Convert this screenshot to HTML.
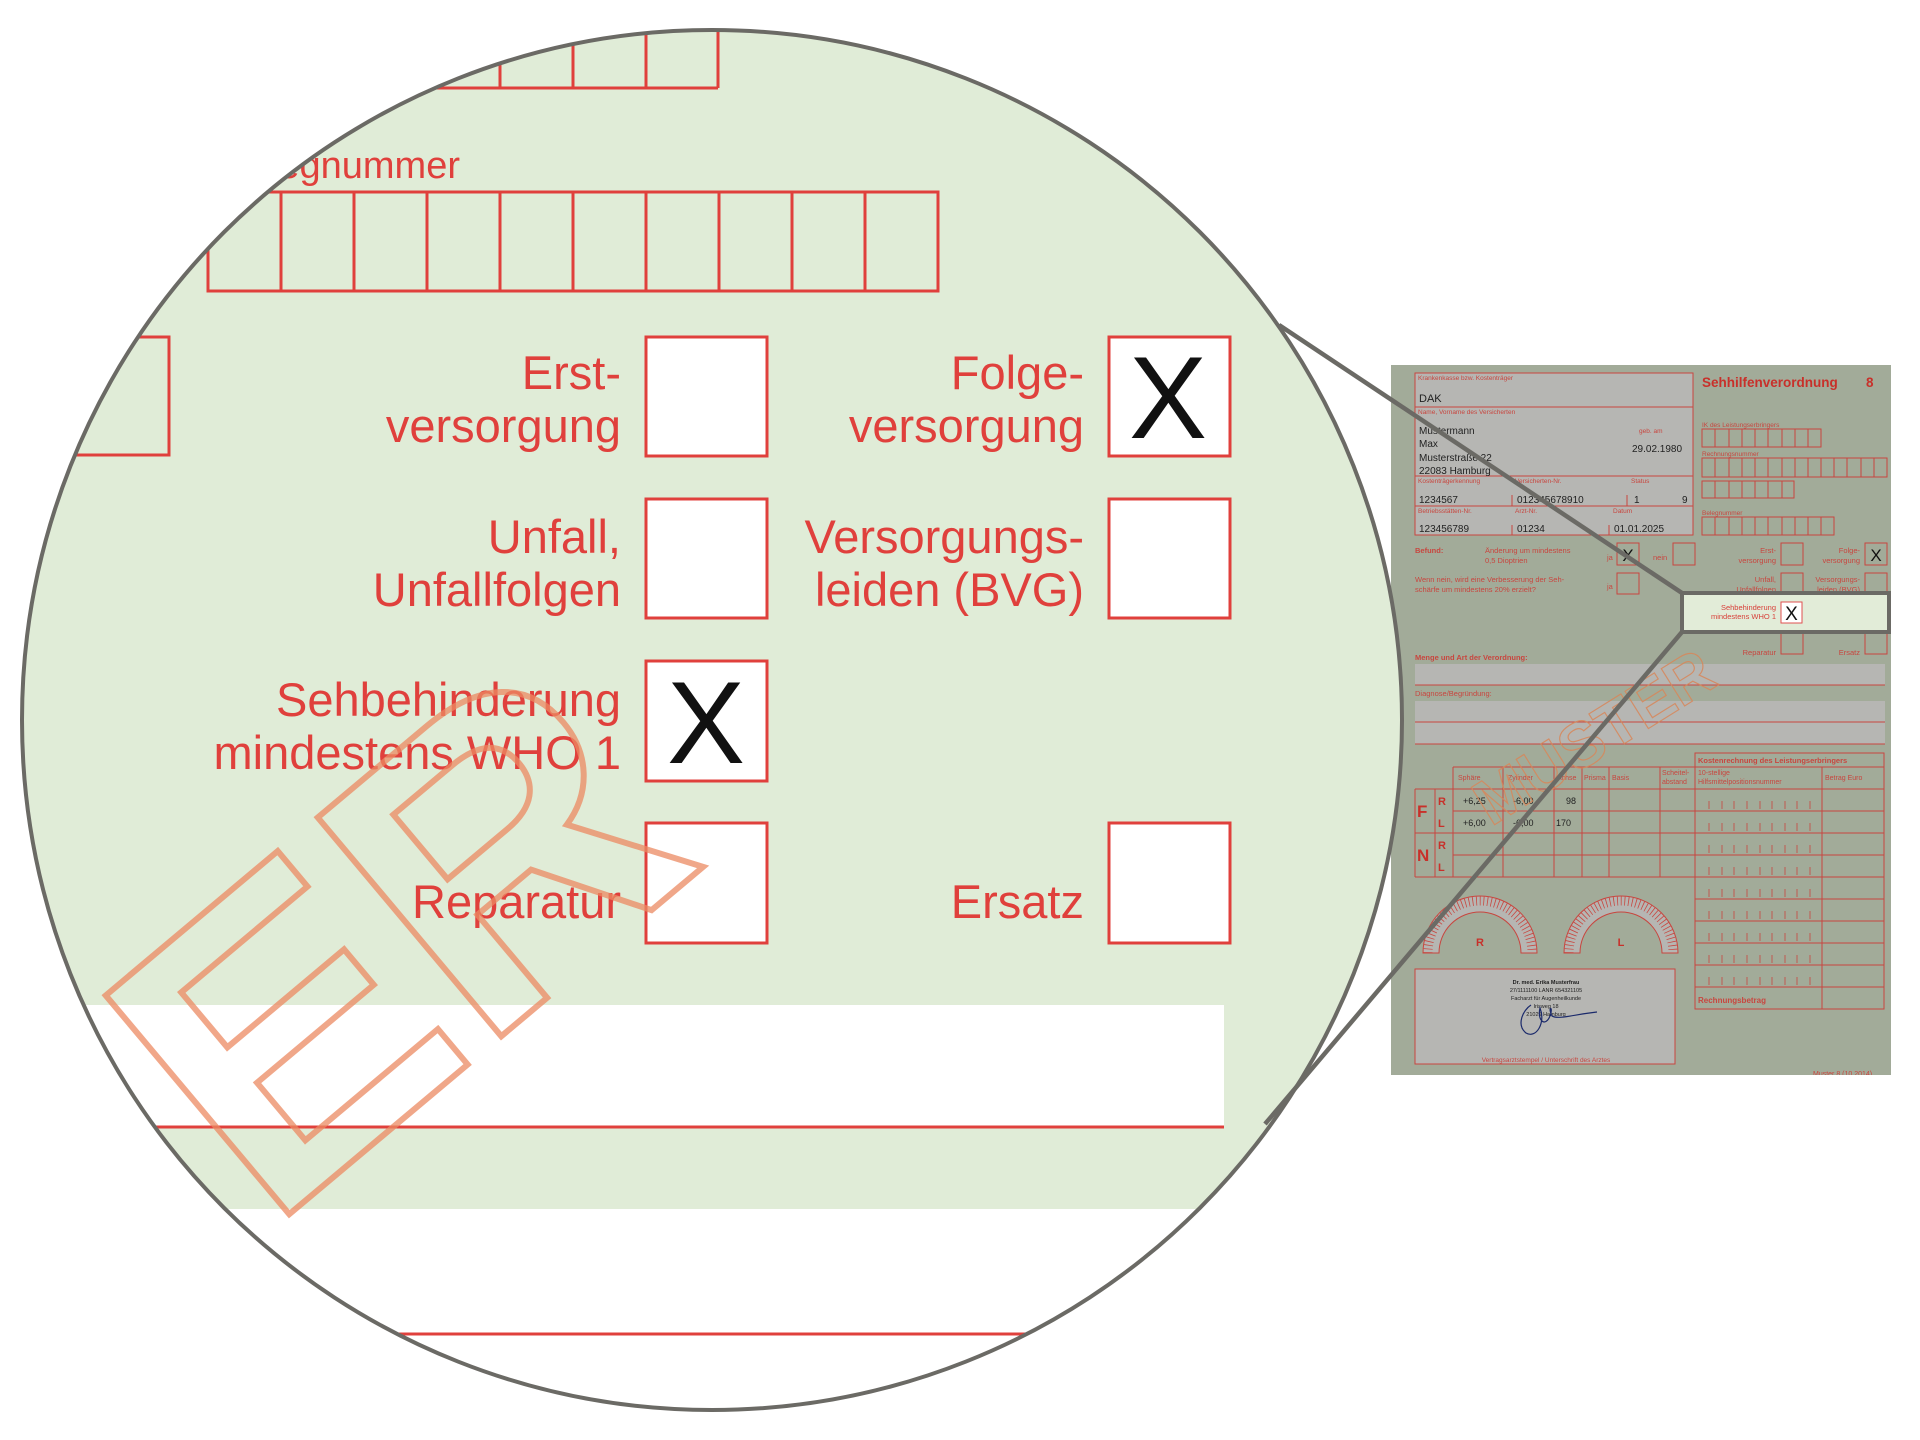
<!DOCTYPE html>
<html><head><meta charset="utf-8"><style>
html,body{margin:0;padding:0;background:#fff;width:1920px;height:1440px;overflow:hidden}
svg{display:block}
text{font-family:"Liberation Sans",sans-serif}
</style></head><body>
<svg width="1920" height="1440" viewBox="0 0 1920 1440" xmlns="http://www.w3.org/2000/svg">
<defs>
<clipPath id="cc"><circle cx="712" cy="720" r="690"/></clipPath>
<clipPath id="fc"><rect x="0" y="0" width="500" height="710"/></clipPath>
</defs>

<g transform="translate(1391,365)">
<rect x="0" y="0" width="500" height="710" fill="#a2ab99"/>
<g clip-path="url(#fc)">
<g fill="none" stroke="#c8463f" stroke-width="1">
<rect x="24" y="8" width="278" height="162" fill="#b6b6b3"/>
<line x1="24" y1="42" x2="302" y2="42"/>
<line x1="24" y1="111" x2="302" y2="111"/>
<line x1="24" y1="141" x2="302" y2="141"/>
<line x1="121" y1="130" x2="121" y2="141"/>
<line x1="236" y1="130" x2="236" y2="141"/>
<line x1="121" y1="160" x2="121" y2="170"/>
<line x1="218" y1="160" x2="218" y2="170"/>
</g>
<g fill="#c8463f" font-size="6.5">
<text x="27" y="15">Krankenkasse bzw. Kostenträger</text>
<text x="27" y="49">Name, Vorname des Versicherten</text>
<text x="248" y="68">geb. am</text>
<text x="27" y="118">Kostenträgerkennung</text>
<text x="124" y="118">Versicherten-Nr.</text>
<text x="240" y="118">Status</text>
<text x="27" y="148">Betriebsstätten-Nr.</text>
<text x="124" y="148">Arzt-Nr.</text>
<text x="222" y="148">Datum</text>
</g>
<g fill="#222" font-size="10">
<text x="28" y="37" font-size="11">DAK</text>
<text x="28" y="69">Mustermann</text>
<text x="28" y="82">Max</text>
<text x="28" y="96">Musterstraße 22</text>
<text x="28" y="109">22083 Hamburg</text>
<text x="241" y="87">29.02.1980</text>
<text x="28" y="138">1234567</text>
<text x="126" y="138">012345678910</text>
<text x="243" y="138">1</text>
<text x="291" y="138">9</text>
<text x="28" y="167">123456789</text>
<text x="126" y="167">01234</text>
<text x="223" y="167">01.01.2025</text>
</g>
<text x="311" y="22" fill="#c8302a" font-size="13.5" font-weight="bold">Sehhilfenverordnung</text>
<text x="475" y="22" fill="#c8302a" font-size="13.5" font-weight="bold">8</text>
<g fill="#c8463f" font-size="6.5">
<text x="311" y="62">IK des Leistungserbringers</text>
<text x="311" y="91">Rechnungsnummer</text>
<text x="311" y="150">Belegnummer</text>
</g>
<g fill="none" stroke="#c8463f" stroke-width="1">
<rect x="311" y="64" width="119" height="18"/>
<path d="M324 64v18M338 64v18M351 64v18M364 64v18M377 64v18M391 64v18M404 64v18M417 64v18"/>
<rect x="311" y="93" width="185" height="19"/>
<path d="M324 93v19M338 93v19M351 93v19M364 93v19M377 93v19M391 93v19M404 93v19M417 93v19M430 93v19M443 93v19M456 93v19M470 93v19M483 93v19"/>
<rect x="311" y="116" width="92" height="17"/>
<path d="M324 116v17M338 116v17M351 116v17M364 116v17M377 116v17M391 116v17"/>
<rect x="311" y="152" width="132" height="18"/>
<path d="M324 152v18M338 152v18M351 152v18M364 152v18M377 152v18M391 152v18M404 152v18M417 152v18M430 152v18"/>
</g>
<g fill="#c8463f" font-size="7.5">
<text x="24" y="188" font-weight="bold">Befund:</text>
<text x="94" y="188">Änderung um mindestens</text>
<text x="94" y="198">0,5 Dioptrien</text>
<text x="216" y="195">ja</text>
<text x="262" y="195">nein</text>
<text x="24" y="217">Wenn nein, wird eine Verbesserung der Seh-</text>
<text x="24" y="227">schärfe um mindestens 20% erzielt?</text>
<text x="216" y="224">ja</text>
<text x="385" y="188" text-anchor="end">Erst-</text>
<text x="385" y="198" text-anchor="end">versorgung</text>
<text x="469" y="188" text-anchor="end">Folge-</text>
<text x="469" y="198" text-anchor="end">versorgung</text>
<text x="385" y="217" text-anchor="end">Unfall,</text>
<text x="385" y="227" text-anchor="end">Unfallfolgen</text>
<text x="469" y="217" text-anchor="end">Versorgungs-</text>
<text x="469" y="227" text-anchor="end">leiden (BVG)</text>
<text x="385" y="290" text-anchor="end">Reparatur</text>
<text x="469" y="290" text-anchor="end">Ersatz</text>
</g>
<g fill="none" stroke="#c8463f" stroke-width="1">
<rect x="226" y="178" width="22" height="22"/>
<rect x="282" y="178" width="22" height="22"/>
<rect x="390" y="178" width="22" height="22"/>
<rect x="474" y="178" width="22" height="22"/>
<rect x="226" y="208" width="22" height="21"/>
<rect x="390" y="208" width="22" height="21"/>
<rect x="474" y="208" width="22" height="21"/>
<rect x="390" y="268" width="22" height="21"/>
<rect x="474" y="268" width="22" height="21"/>
</g>
<g fill="#111" font-size="17" text-anchor="middle">
<text x="237" y="196">X</text>
<text x="485" y="196">X</text>
</g>
<text x="24" y="295" fill="#c8463f" font-size="7.5" font-weight="bold">Menge und Art der Verordnung:</text>
<rect x="24" y="299" width="470" height="21" fill="#b6b6b3"/>
<line x1="24" y1="320" x2="494" y2="320" stroke="#c8463f"/>
<text x="24" y="331" fill="#c8463f" font-size="7.5">Diagnose/Begründung:</text>
<rect x="24" y="336" width="470" height="43" fill="#b6b6b3"/>
<line x1="24" y1="357" x2="494" y2="357" stroke="#c8463f"/>
<line x1="24" y1="379" x2="494" y2="379" stroke="#c8463f"/>

<g fill="none" stroke="#c8463f" stroke-width="1">
<path d="M62 402H304M24 424H304M62 446H304M24 468H304M62 490H304M24 512H304"/>
<path d="M24 424V512M44 424V512M62 402V512M112 402V512M163 402V512M191 402V512M218 402V512M269 402V512M304 402V512"/>
<rect x="304" y="388" width="189" height="256"/>
<path d="M304 402H493M304 424H493M304 446H493M304 468H493M304 490H493M304 512H493M304 534H493M304 556H493M304 578H493M304 600H493M304 622H493"/>
<path d="M431 402V644"/>
</g>
<g stroke="#c8463f" stroke-width="0.8">
<path d="M318 436v8M331 436v8M343 436v8M356 436v8M369 436v8M381 436v8M394 436v8M406 436v8M419 436v8
M318 458v8M331 458v8M343 458v8M356 458v8M369 458v8M381 458v8M394 458v8M406 458v8M419 458v8
M318 480v8M331 480v8M343 480v8M356 480v8M369 480v8M381 480v8M394 480v8M406 480v8M419 480v8
M318 502v8M331 502v8M343 502v8M356 502v8M369 502v8M381 502v8M394 502v8M406 502v8M419 502v8
M318 524v8M331 524v8M343 524v8M356 524v8M369 524v8M381 524v8M394 524v8M406 524v8M419 524v8
M318 546v8M331 546v8M343 546v8M356 546v8M369 546v8M381 546v8M394 546v8M406 546v8M419 546v8
M318 568v8M331 568v8M343 568v8M356 568v8M369 568v8M381 568v8M394 568v8M406 568v8M419 568v8
M318 590v8M331 590v8M343 590v8M356 590v8M369 590v8M381 590v8M394 590v8M406 590v8M419 590v8
M318 612v8M331 612v8M343 612v8M356 612v8M369 612v8M381 612v8M394 612v8M406 612v8M419 612v8"/>
</g>
<g fill="#c8463f" font-size="7">
<text x="307" y="398" font-weight="bold" font-size="7.5">Kostenrechnung des Leistungserbringers</text>
<text x="307" y="410">10-stellige</text>
<text x="307" y="419">Hilfsmittelpositionsnummer</text>
<text x="434" y="415">Betrag Euro</text>
<text x="307" y="638" font-weight="bold" font-size="8">Rechnungsbetrag</text>
<text x="67" y="415">Sphäre</text>
<text x="117" y="415">Zylinder</text>
<text x="166" y="415">Achse</text>
<text x="193" y="415">Prisma</text>
<text x="221" y="415">Basis</text>
<text x="271" y="410">Scheitel-</text>
<text x="271" y="419">abstand</text>
<text x="422" y="711">Muster 8 (10.2014)</text>
</g>
<g fill="#c8302a" font-weight="bold">
<text x="26" y="452" font-size="17">F</text>
<text x="26" y="496" font-size="17">N</text>
<text x="47" y="440" font-size="11">R</text>
<text x="47" y="462" font-size="11">L</text>
<text x="47" y="484" font-size="11">R</text>
<text x="47" y="506" font-size="11">L</text>
</g>
<g fill="#222" font-size="9">
<text x="72" y="439">+6,25</text><text x="122" y="439">-6,00</text><text x="175" y="439">98</text>
<text x="72" y="461">+6,00</text><text x="122" y="461">-6,00</text><text x="165" y="461">170</text>
</g>
<g fill="none" stroke="#c8463f">
<path d="M32 588A57 57 0 0 1 146 588H130A41 41 0 0 0 48 588Z" fill="#b6b6b3"/>
<path d="M173 588A57 57 0 0 1 287 588H271A41 41 0 0 0 189 588Z" fill="#b6b6b3"/>
<path d="M37 588A52 52 0 0 1 141 588" stroke-width="9" stroke-dasharray="0.8 2.9"/>
<path d="M178 588A52 52 0 0 1 282 588" stroke-width="9" stroke-dasharray="0.8 2.9"/>
</g>
<text x="89" y="581" fill="#c8302a" font-size="11" font-weight="bold" text-anchor="middle">R</text>
<text x="230" y="581" fill="#c8302a" font-size="11" font-weight="bold" text-anchor="middle">L</text>
<rect x="24" y="604" width="260" height="95" fill="#b6b6b3" stroke="#c8463f"/>
<g font-size="5.5" fill="#222" text-anchor="middle">
<text x="155" y="619" font-weight="bold">Dr. med. Erika Musterfrau</text>
<text x="155" y="627">27/1111100 LANR 654321105</text>
<text x="155" y="635">Facharzt für Augenheilkunde</text>
<text x="155" y="643">Irisweg 18</text>
<text x="155" y="651">21029 Hamburg</text>
</g>
<path d="M140 640c-8 5-15 20-5 28 10 6 20-10 14-25-3 12 5 20 10 8 4-10-3-10 2 0 6 4 25-2 45-4" fill="none" stroke="#1b2a6b" stroke-width="1.2"/>
<text x="155" y="697" fill="#c8463f" font-size="6.5" text-anchor="middle">Vertragsarztstempel / Unterschrift des Arztes</text>
<text x="0" y="0" transform="translate(100,462) rotate(-32)" font-size="64" font-weight="bold" fill="none" stroke="#d8875a" stroke-width="1.2" opacity="0.85">MUSTER</text>
</g>
<rect x="291" y="228" width="207" height="39" fill="#e2ecd8" stroke="#6b6a65" stroke-width="4"/>
<text x="385" y="245" fill="#d8403a" font-size="7.5" text-anchor="end">Sehbehinderung</text>
<text x="385" y="254" fill="#d8403a" font-size="7.5" text-anchor="end">mindestens WHO 1</text>
<rect x="390" y="237" width="21" height="21" fill="#fff" stroke="#e05050"/>
<text x="400.5" y="255" fill="#111" font-size="19" text-anchor="middle">X</text>
</g>

<g clip-path="url(#cc)">
<rect x="0" y="0" width="1420" height="1440" fill="#fff"/>
<rect x="0" y="0" width="1420" height="1209" fill="#e0ecd7"/>
<g fill="none" stroke="#e0403c" stroke-width="3">
<path d="M426 0V88M500 0V88M573 0V88M646 0V88M718 0V88M300 88H718"/>
<rect x="208" y="192" width="730" height="99"/>
<path d="M281 192v99M354 192v99M427 192v99M500 192v99M573 192v99M646 192v99M719 192v99M792 192v99M865 192v99"/>
<rect x="0" y="337" width="169" height="118"/>
</g>
<text x="460" y="178" fill="#e0403c" font-size="38" text-anchor="end">Belegnummer</text>
<g fill="#fff" stroke="#e0403c" stroke-width="3">
<rect x="646" y="337" width="121" height="119"/>
<rect x="1109" y="337" width="121" height="119"/>
<rect x="646" y="499" width="121" height="119"/>
<rect x="1109" y="499" width="121" height="119"/>
<rect x="646" y="661" width="121" height="120"/>
<rect x="646" y="823" width="121" height="120"/>
<rect x="1109" y="823" width="121" height="120"/>
</g>
<g fill="#111" font-size="117" text-anchor="middle">
<text x="1168" y="438">X</text>
<text x="706" y="763">X</text>
</g>
<g fill="#e0403c" font-size="47" text-anchor="end">
<text x="621" y="389">Erst-</text>
<text x="621" y="442">versorgung</text>
<text x="1084" y="389">Folge-</text>
<text x="1084" y="442">versorgung</text>
<text x="621" y="553">Unfall,</text>
<text x="621" y="606">Unfallfolgen</text>
<text x="1084" y="553">Versorgungs-</text>
<text x="1084" y="606">leiden (BVG)</text>
<text x="621" y="716">Sehbehinderung</text>
<text x="621" y="769">mindestens WHO 1</text>
<text x="621" y="918">Reparatur</text>
<text x="1084" y="918">Ersatz</text>
</g>
<rect x="0" y="1005" width="1224" height="123" fill="#fff"/>
<line x1="152" y1="1127" x2="1224" y2="1127" stroke="#e0403c" stroke-width="3"/>
<line x1="388" y1="1334" x2="1040" y2="1334" stroke="#e0403c" stroke-width="3"/>
<text x="0" y="0" transform="translate(268,1232) rotate(-40)" font-size="415" font-weight="bold" fill="none" stroke="#ec8a62" stroke-width="6" opacity="0.75">ER</text>
</g>
<circle cx="712" cy="720" r="690" fill="none" stroke="#6b6a65" stroke-width="4"/>

<line x1="1279" y1="325" x2="1682" y2="593" stroke="#6b6a65" stroke-width="4.5"/>
<line x1="1682" y1="632" x2="1265" y2="1124" stroke="#6b6a65" stroke-width="4.5"/>
</svg>
</body></html>
